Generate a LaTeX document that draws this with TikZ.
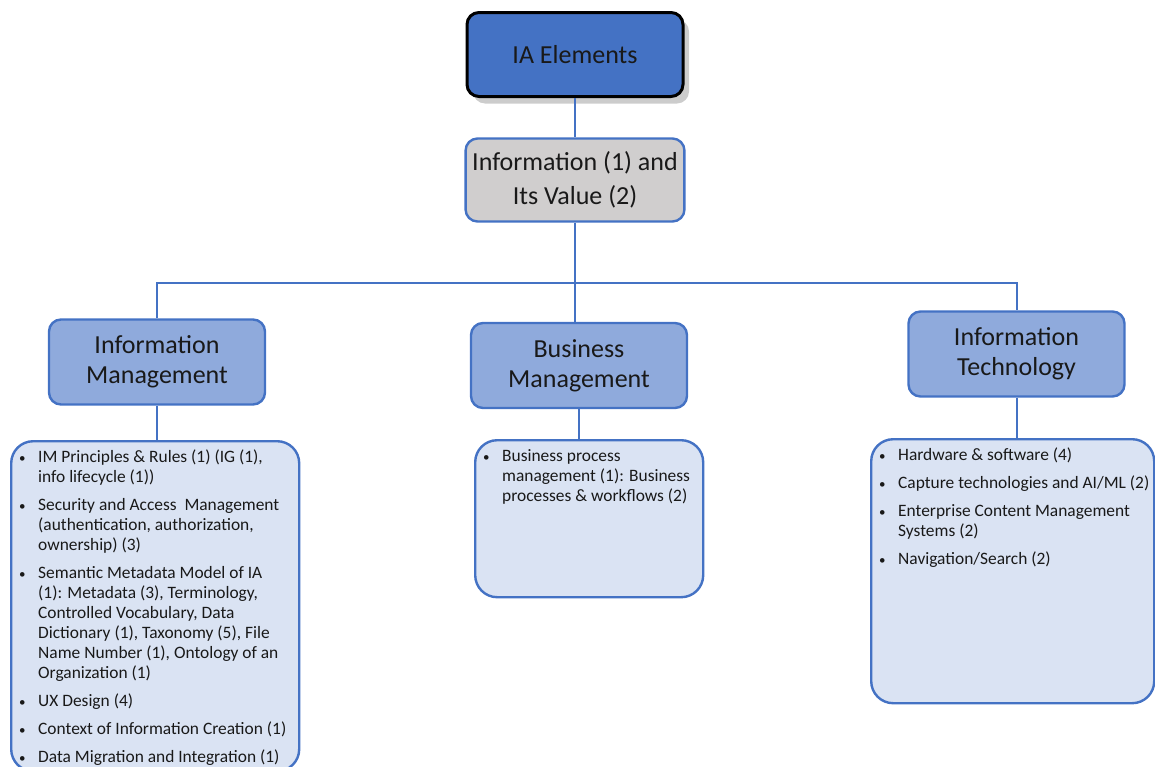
\documentclass[tikz,border=0pt]{standalone}
\usepackage{fontspec}
\setmainfont{Carlito}
\usetikzlibrary{shadows}

\definecolor{iablue}{HTML}{4472C4}
\definecolor{iagray}{HTML}{D0CECE}
\definecolor{iamid}{HTML}{8FAADC}
\definecolor{ialight}{HTML}{DAE3F3}

% one bullet of a list box
\newcommand{\iaitem}[1]{\hangindent=9.5pt\hangafter=1\noindent
  \makebox[9.5pt][l]{\fontsize{6.5}{7}\selectfont\textbullet}#1\par}
% text block of a list box: width, height, items
\newcommand{\ialist}[3]{\parbox[t][#2][t]{#1}{\fontsize{8.7}{10}\selectfont
  \raggedright\leftskip=4pt\setlength{\parskip}{4pt}\vspace*{0.5pt}#3}}

\begin{document}
\begin{tikzpicture}[x=0.5pt, y=-0.5pt, text=black!90,
    topbox/.style={draw=black, line width=1.5pt, fill=iablue,
      rounded corners=6pt, minimum width=108pt, minimum height=42pt,
      font=\fontsize{13}{17}\selectfont,
      drop shadow={shadow xshift=3pt, shadow yshift=-3.5pt,
        opacity=0.2, fill=black}},
    valbox/.style={draw=iablue, line width=1.2pt, fill=iagray,
      rounded corners=6pt, minimum width=108pt, minimum height=41.5pt,
      align=center, font=\fontsize{13}{17}\selectfont},
    areabox/.style={draw=iablue, line width=1.2pt, fill=iamid,
      rounded corners=6pt, minimum width=108pt, minimum height=42.5pt,
      align=center, font=\fontsize{13}{15}\selectfont},
    listbox/.style={draw=iablue, line width=1.2pt, fill=ialight,
      rounded corners=11pt, anchor=north west, inner sep=0pt},
    link/.style={draw=iablue, line width=1pt}]
  \useasboundingbox (0,0) rectangle (1155,766);

  % Top of the tree
  \node[topbox] (ia) at (575,54.5) {IA Elements};
  \node[valbox] (val) at (575,180) {Information (1) and\\Its Value (2)};

  % Three areas
  \node[areabox] (im) at (157,362) {Information\\Management};
  \node[areabox] (bm) at (579,365.5) {Business\\Management};
  \node[areabox] (it) at (1016.5,354) {Information\\Technology};

  % Lists under the areas
  \node[listbox] (imlist) at (10,440) {\ialist{144pt}{165pt}{%
    \iaitem{IM Principles \& Rules (1) (IG (1),\newline info lifecycle (1))}
    \iaitem{Security and Access~ Management\newline (authentication, authorization,\newline ownership) (3)}
    \iaitem{Semantic Metadata Model of IA\newline (1): Metadata (3), Terminology,\newline Controlled Vocabulary, Data\newline Dictionary (1), Taxonomy (5), File\newline Name Number (1), Ontology of an\newline Organization (1)}
    \iaitem{UX Design (4)}
    \iaitem{Context of Information Creation (1)}
    \iaitem{Data Migration and Integration (1)}}};
  \node[listbox] (bmlist) at (474,439) {\ialist{114pt}{78.5pt}{%
    \iaitem{Business process\newline management (1): Business\newline processes \& workflows (2)}}};
  \node[listbox] (itlist) at (870,438) {\ialist{141.5pt}{132pt}{%
    \iaitem{Hardware \& software (4)}
    \iaitem{Capture technologies and AI/ML (2)}
    \iaitem{Enterprise Content Management\newline Systems (2)}
    \iaitem{Navigation/Search (2)}}};

  % Connectors
  \coordinate (bus) at (575,283);
  \draw[link] (ia) -- (val);
  \draw[link] (val.south) -- (val.south |- bm.north);
  \draw[link] (im.north) |- (bus) -| (it.north);
  \draw[link] (im.south) -- (im.south |- imlist.north);
  \draw[link] (bm.south) -- (bm.south |- bmlist.north);
  \draw[link] (it.south) -- (it.south |- itlist.north);
\end{tikzpicture}
\end{document}
